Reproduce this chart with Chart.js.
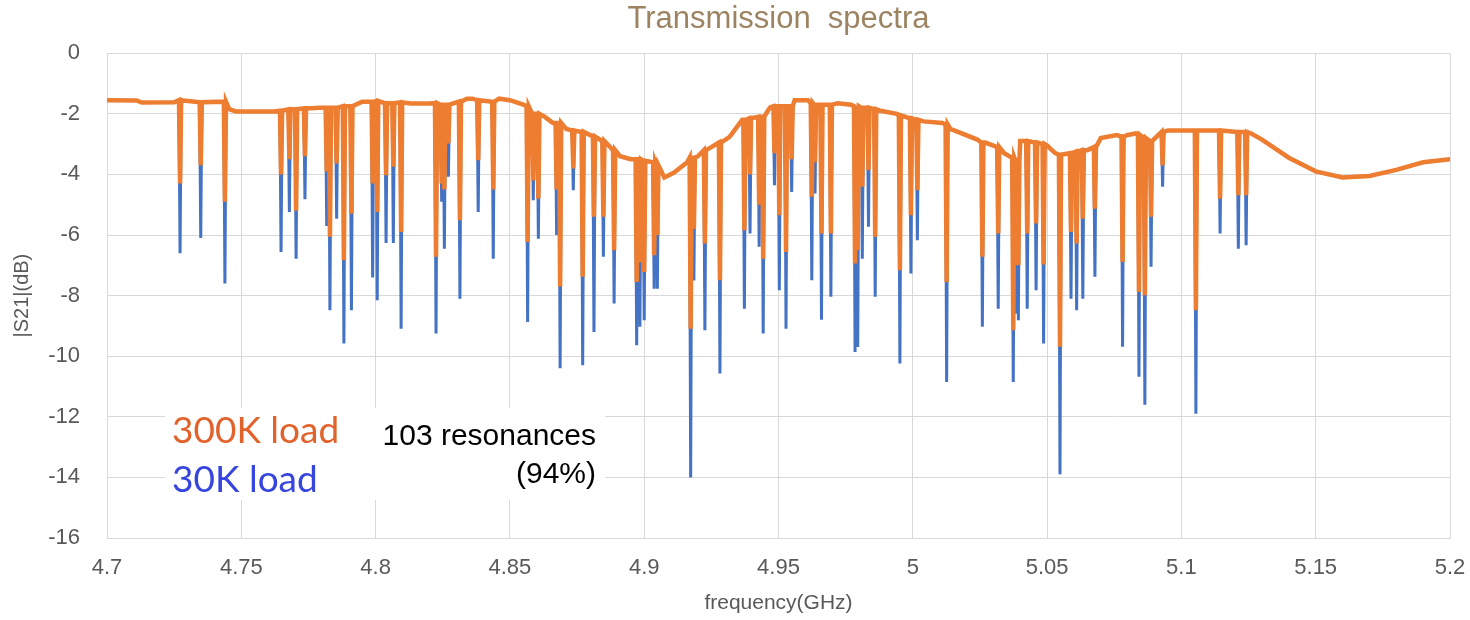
<!DOCTYPE html>
<html>
<head>
<meta charset="utf-8">
<script src="https://cdn.jsdelivr.net/npm/chart.js@4.4.1/dist/chart.umd.min.js"></script>
<style>
  html, body { margin: 0; padding: 0; background: #fff; }
  #wrap { width: 1470px; height: 620px; }
</style>
</head>
<body>
<div id="wrap"><canvas id="spectrum" width="1470" height="620"></canvas></div>
<script>
// x ticks (GHz) and y ticks (dB)
const xTicks = [4.7, 4.75, 4.8, 4.85, 4.9, 4.95, 5.0, 5.05, 5.1, 5.15, 5.2];
const xTickLabels = ['4.7', '4.75', '4.8', '4.85', '4.9', '4.95', '5', '5.05', '5.1', '5.15', '5.2'];
const yTicks = [0, -2, -4, -6, -8, -10, -12, -14, -16];

// smooth background of |S21| between resonances
const baseFreq = [4.700, 4.711, 4.713, 4.725, 4.7455, 4.748, 4.762, 4.776, 4.779, 4.795,
  4.813, 4.820, 4.834, 4.836, 4.846, 4.850, 4.855, 4.863, 4.866, 4.871,
  4.891, 4.895, 4.9075, 4.911, 4.916, 4.920, 4.925, 4.9318, 4.9365, 4.946,
  4.947, 4.956, 4.961, 4.972, 4.977, 4.988, 4.994, 5.004, 5.011, 5.014,
  5.024, 5.027, 5.030, 5.034, 5.040, 5.050, 5.053, 5.065, 5.070, 5.076,
  5.080, 5.083, 5.095, 5.103, 5.108, 5.112, 5.126, 5.130, 5.140, 5.150,
  5.160, 5.170, 5.180, 5.190, 5.200];
const baseLevel = [-1.55, -1.56, -1.63, -1.62, -1.85, -1.92, -1.92, -1.82, -1.80, -1.60,
  -1.66, -1.66, -1.50, -1.50, -1.50, -1.55, -1.70, -2.10, -2.30, -2.50,
  -3.40, -3.50, -4.10, -3.95, -3.60, -3.40, -3.10, -2.76, -2.20, -1.90,
  -1.78, -1.55, -1.55, -1.65, -1.70, -1.90, -2.00, -2.25, -2.30, -2.50,
  -2.85, -2.95, -3.05, -3.30, -2.90, -3.05, -3.30, -3.20, -2.80, -2.70,
  -2.70, -2.65, -2.55, -2.55, -2.55, -2.55, -2.65, -2.85, -3.45, -3.90,
  -4.10, -4.05, -3.85, -3.60, -3.50];

// resonances: frequency, level at the top of the dip, depth at 300K load, depth at 30K load
const resFreq = [4.7272, 4.7349, 4.7439, 4.7648, 4.7679, 4.7704, 4.7737, 4.7818, 4.7830, 4.7855,
  4.7882, 4.7910, 4.7989, 4.8006, 4.8039, 4.8066, 4.8095, 4.8225, 4.8246, 4.8256,
  4.8271, 4.8314, 4.8382, 4.8438, 4.8566, 4.8587, 4.8606, 4.8674, 4.8687, 4.8736,
  4.8771, 4.8813, 4.8848, 4.8888, 4.8972, 4.8984, 4.9000, 4.9037, 4.9049, 4.9173,
  4.9185, 4.9226, 4.9282, 4.9373, 4.9394, 4.9428, 4.9443, 4.9485, 4.9503, 4.9528,
  4.9549, 4.9624, 4.9636, 4.9660, 4.9695, 4.9785, 4.9795, 4.9812, 4.9835, 4.9860,
  4.9952, 4.9993, 5.0017, 5.0126, 5.0259, 5.0318, 5.0374, 5.0384, 5.0393, 5.0426,
  5.0459, 5.0487, 5.0548, 5.0589, 5.0610, 5.0633, 5.0678, 5.0781, 5.0842, 5.0864,
  5.0887, 5.0930, 5.1054, 5.1144, 5.1212, 5.1241];
const resTop = [-1.55, -1.62, -1.60, -1.90, -1.85, -1.85, -1.82, -1.80, -1.80, -1.80,
  -1.75, -1.75, -1.60, -1.58, -1.65, -1.65, -1.62, -1.65, -1.70, -1.70,
  -1.70, -1.60, -1.55, -1.60, -1.75, -2.00, -2.00, -2.30, -2.30, -2.55,
  -2.60, -2.75, -2.90, -3.20, -3.50, -3.50, -3.55, -3.60, -3.70, -3.45,
  -3.45, -3.20, -2.95, -2.20, -2.15, -2.10, -2.10, -1.75, -1.75, -1.75,
  -1.75, -1.65, -1.70, -1.70, -1.70, -1.75, -1.75, -1.80, -1.80, -1.85,
  -2.05, -2.15, -2.20, -2.35, -2.95, -3.10, -3.45, -3.50, -3.50, -2.90,
  -2.95, -3.00, -3.35, -3.30, -3.25, -3.20, -3.10, -2.75, -2.70, -2.80,
  -2.90, -2.60, -2.55, -2.55, -2.60, -2.60];
const res300 = [-4.30, -3.70, -4.90, -4.00, -3.50, -5.20, -3.40, -3.90, -6.06, -3.64,
  -6.83, -5.30, -4.30, -5.24, -4.03, -3.75, -5.90, -6.72, -4.30, -4.50,
  -2.98, -5.51, -3.53, -4.50, -6.23, -4.20, -4.80, -4.50, -7.70, -3.80,
  -7.38, -5.40, -5.40, -6.50, -7.55, -6.90, -7.22, -6.67, -6.00, -9.09,
  -5.80, -6.28, -7.49, -5.84, -4.00, -5.00, -6.78, -3.30, -5.35, -6.56,
  -3.50, -4.74, -3.60, -5.95, -5.95, -6.94, -6.50, -4.41, -3.86, -6.06,
  -7.16, -5.35, -4.52, -7.55, -6.72, -5.95, -9.14, -7.00, -7.00, -5.95,
  -5.62, -6.97, -9.69, -5.90, -6.28, -5.46, -5.13, -6.89, -7.88, -7.99,
  -5.40, -3.70, -8.48, -4.80, -4.69, -4.69];
const res30 = [-6.60, -6.10, -7.60, -6.56, -5.24, -6.78, -4.82, -5.70, -8.48, -5.46,
  -9.58, -8.48, -7.40, -8.15, -6.26, -6.26, -9.09, -9.25, -4.90, -6.45,
  -4.08, -8.10, -5.24, -6.78, -8.87, -4.85, -6.12, -6.00, -10.40, -4.52,
  -10.30, -9.20, -6.72, -8.26, -9.64, -9.03, -8.81, -7.77, -7.77, -14.00,
  -7.50, -9.14, -10.57, -8.43, -5.95, -6.39, -9.25, -4.36, -7.82, -9.09,
  -4.58, -7.49, -4.63, -8.80, -8.04, -9.86, -9.70, -6.78, -5.73, -8.04,
  -10.24, -7.27, -6.17, -10.85, -9.03, -8.43, -10.85, -8.59, -8.81, -8.43,
  -7.82, -9.58, -13.90, -8.10, -8.48, -8.10, -7.38, -9.69, -10.68, -11.60,
  -7.05, -4.41, -11.90, -5.95, -6.45, -6.34];

const halfWidth = 0.0004;

function buildTrace(depths) {
  const pts = baseFreq.map((f, i) => ({ x: f, y: baseLevel[i] }));
  resFreq.forEach((f, i) => {
    pts.push({ x: f - halfWidth, y: resTop[i] });
    pts.push({ x: f, y: depths[i] });
    pts.push({ x: f + halfWidth, y: resTop[i] });
  });
  return pts.sort((a, b) => a.x - b.x);
}

const tickFont = { family: 'Liberation Sans, Arial, sans-serif', size: 22 };
const gridColor = '#d9d9d9';

const notes = {
  id: 'notes',
  beforeDatasetsDraw(chart) {
    const ctx = chart.ctx;
    ctx.save();
    ctx.fillStyle = '#ffffff';
    ctx.fillRect(165, 408, 440, 92);
    ctx.restore();
  },
  afterDraw(chart) {
    const ctx = chart.ctx;
    ctx.save();
    ctx.textBaseline = 'alphabetic';
    ctx.textAlign = 'left';
    ctx.font = '37px Lato, "Noto Sans", sans-serif';
    ctx.fillStyle = '#e2622b';
    ctx.fillText('300K load', 172, 443);
    ctx.fillStyle = '#3645dd';
    ctx.fillText('30K load', 172, 492);
    ctx.font = '30px "Liberation Sans", Arial, sans-serif';
    ctx.fillStyle = '#000000';
    ctx.textAlign = 'right';
    ctx.fillText('103 resonances', 596, 445);
    ctx.fillText('(94%)', 596, 483);
    ctx.restore();
  }
};

new Chart(document.getElementById('spectrum'), {
  type: 'line',
  data: {
    datasets: [
      {
        label: '300K load',
        data: buildTrace(res300),
        borderColor: '#ed7d31',
        borderWidth: 4.5,
        pointRadius: 0,
        tension: 0
      },
      {
        label: '30K load',
        data: buildTrace(res30),
        borderColor: '#4472c4',
        borderWidth: 3,
        pointRadius: 0,
        tension: 0
      }
    ]
  },
  options: {
    responsive: false,
    animation: false,
    devicePixelRatio: 1,
    layout: { padding: { left: 0, right: 20, top: 0, bottom: 0 } },
    scales: {
      x: {
        type: 'linear',
        min: 4.7,
        max: 5.2,
        afterBuildTicks: (scale) => { scale.ticks = xTicks.map(v => ({ value: v })); },
        afterFit: (scale) => {
          scale.height = 82;
          scale.paddingLeft = 0;
          scale.paddingRight = 0;
        },
        ticks: {
          font: tickFont,
          color: '#595959',
          padding: 17,
          maxRotation: 0,
          callback: (v, i) => xTickLabels[i]
        },
        grid: { color: gridColor, drawTicks: false },
        border: { color: gridColor },
        title: {
          display: true,
          text: 'frequency(GHz)',
          color: '#595959',
          font: { family: 'Liberation Sans, Arial, sans-serif', size: 21 },
          padding: { top: 0, bottom: 4 }
        }
      },
      y: {
        min: -16,
        max: 0,
        afterBuildTicks: (scale) => { scale.ticks = yTicks.map(v => ({ value: v })); },
        afterFit: (scale) => { scale.width = 107; },
        ticks: {
          font: tickFont,
          color: '#595959',
          padding: 27
        },
        grid: { color: gridColor, drawTicks: false },
        border: { color: gridColor },
        title: {
          display: true,
          text: '|S21|(dB)',
          color: '#595959',
          font: { family: 'Liberation Sans, Arial, sans-serif', size: 20 },
          padding: { top: 10, bottom: 0 }
        }
      }
    },
    plugins: {
      legend: { display: false },
      tooltip: { enabled: false },
      title: {
        display: true,
        fullSize: false,
        text: 'Transmission  spectra',
        color: '#9c8463',
        font: { family: 'Liberation Sans, Arial, sans-serif', size: 31, weight: 'normal' },
        padding: { top: 1, bottom: 15 }
      }
    }
  },
  plugins: [notes]
});
</script>
</body>
</html>
